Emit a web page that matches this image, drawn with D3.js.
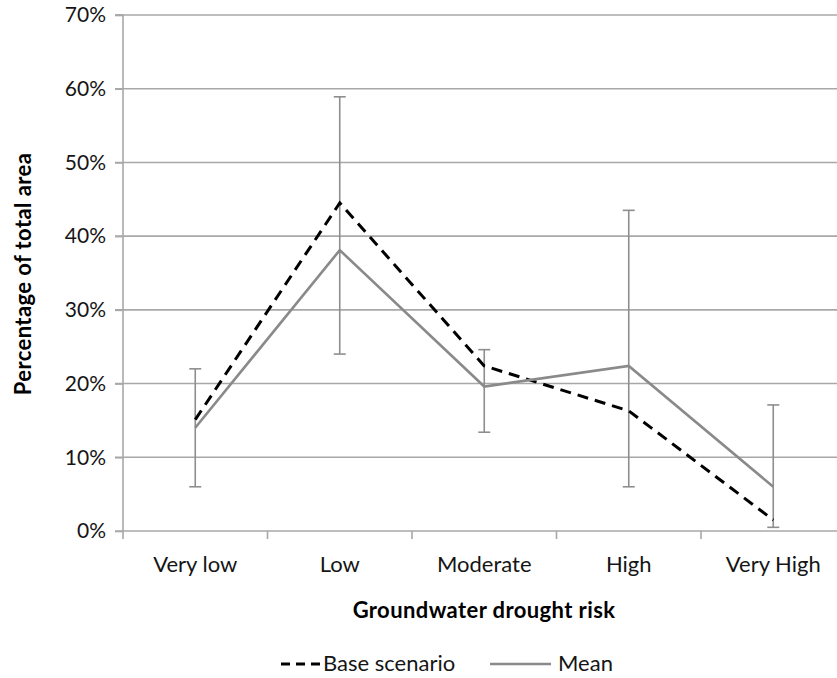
<!DOCTYPE html>
<html>
<head>
<meta charset="utf-8">
<script src="https://cdn.jsdelivr.net/npm/d3@7"></script>
<style>
  html, body { margin: 0; padding: 0; background: #fff; }
  svg { display: block; font-family: Lato, "Open Sans", sans-serif; }
</style>
</head>
<body>
<svg id="chart" width="837" height="678"></svg>
<script>
const categories = ["Very low", "Low", "Moderate", "High", "Very High"];
const baseScenario = [15.1, 44.5, 22.4, 16.3, 1.5];
const meanValues = [14.0, 38.1, 19.6, 22.4, 6.0];
const errLow = [6.0, 24.0, 13.4, 6.0, 0.5];
const errHigh = [22.0, 58.9, 24.6, 43.5, 17.1];
const yTicks = [0, 10, 20, 30, 40, 50, 60, 70];

const svg = d3.select("#chart");
const mLeft = 123, mRight = 845.5, mTop = 15, mBottom = 531;

const x = d3.scaleBand().domain(categories).range([mLeft, mRight]);
const y = d3.scaleLinear().domain([0, 70]).range([mBottom, mTop]);
const cx = d => x(d) + x.bandwidth() / 2;

const grid = "#a8a8a8";
const textCol = "#151515";

// gridlines
svg.append("g").selectAll("line").data(yTicks.filter(t => t > 0)).join("line")
  .attr("x1", mLeft - 8).attr("x2", 837)
  .attr("y1", d => y(d)).attr("y2", d => y(d))
  .attr("stroke", grid).attr("stroke-width", 1.6);

// y axis
const yAxis = d3.axisLeft(y).tickValues(yTicks).tickFormat(d => d + "%").tickSize(8).tickPadding(9);
const gy = svg.append("g").attr("transform", `translate(${mLeft},0)`).call(yAxis);
gy.select(".domain").attr("stroke", grid).attr("stroke-width", 1.6).attr("d", `M-8,${mTop}H0V${mBottom + 8}`);
gy.selectAll(".tick line").attr("stroke", grid).attr("stroke-width", 1.6);
gy.selectAll(".tick text").attr("font-size", 21).attr("fill", textCol).attr("font-family", "Lato, sans-serif");

// x axis
const xAxis = d3.axisBottom(x).tickSize(0).tickPadding(0);
const gx = svg.append("g").attr("transform", `translate(0,${mBottom})`).call(xAxis);
gx.select(".domain").attr("stroke", grid).attr("stroke-width", 1.6).attr("d", `M${mLeft - 8},0H837`);
gx.selectAll(".tick text").attr("font-size", 22).attr("fill", textCol).attr("font-family", "Lato, sans-serif")
  .attr("dy", 0).attr("y", 41);
// boundary ticks
svg.append("g").selectAll("line").data(categories.slice(1)).join("line")
  .attr("x1", d => x(d)).attr("x2", d => x(d))
  .attr("y1", mBottom).attr("y2", mBottom + 8)
  .attr("stroke", grid).attr("stroke-width", 1.6);

// error bars
const eb = svg.append("g").attr("stroke", "#8e8e8e").attr("stroke-width", 1.6);
categories.forEach((c, i) => {
  eb.append("line").attr("x1", cx(c)).attr("x2", cx(c)).attr("y1", y(errLow[i])).attr("y2", y(errHigh[i]));
  eb.append("line").attr("x1", cx(c) - 6).attr("x2", cx(c) + 6).attr("y1", y(errLow[i])).attr("y2", y(errLow[i]));
  eb.append("line").attr("x1", cx(c) - 6).attr("x2", cx(c) + 6).attr("y1", y(errHigh[i])).attr("y2", y(errHigh[i]));
});

const line = d3.line().x((d, i) => cx(categories[i])).y(d => y(d));

svg.append("path").datum(baseScenario).attr("d", line)
  .attr("fill", "none").attr("stroke", "#000").attr("stroke-width", 3)
  .attr("stroke-dasharray", "11,7");

svg.append("path").datum(meanValues).attr("d", line)
  .attr("fill", "none").attr("stroke", "#8a8a8a").attr("stroke-width", 2.6);

// axis titles
svg.append("text").attr("x", 484).attr("y", 618).attr("text-anchor", "middle")
  .attr("font-size", 22).attr("font-weight", "bold").attr("fill", "#000").attr("letter-spacing", 0.4)
  .text("Groundwater drought risk");
svg.append("text").attr("transform", "translate(31,274) rotate(-90)").attr("text-anchor", "middle")
  .attr("font-size", 22).attr("font-weight", "bold").attr("fill", "#000").attr("letter-spacing", 0.4)
  .text("Percentage of total area");

// legend
const lg = svg.append("g");
lg.append("line").attr("x1", 281).attr("x2", 321).attr("y1", 664).attr("y2", 664)
  .attr("stroke", "#000").attr("stroke-width", 3).attr("stroke-dasharray", "9,6");
lg.append("text").attr("x", 323).attr("y", 671).attr("font-size", 22).attr("fill", textCol).text("Base scenario");
lg.append("line").attr("x1", 490).attr("x2", 551).attr("y1", 664).attr("y2", 664)
  .attr("stroke", "#8a8a8a").attr("stroke-width", 2.6);
lg.append("text").attr("x", 558).attr("y", 671).attr("font-size", 22).attr("fill", textCol).text("Mean");
</script>
</body>
</html>
